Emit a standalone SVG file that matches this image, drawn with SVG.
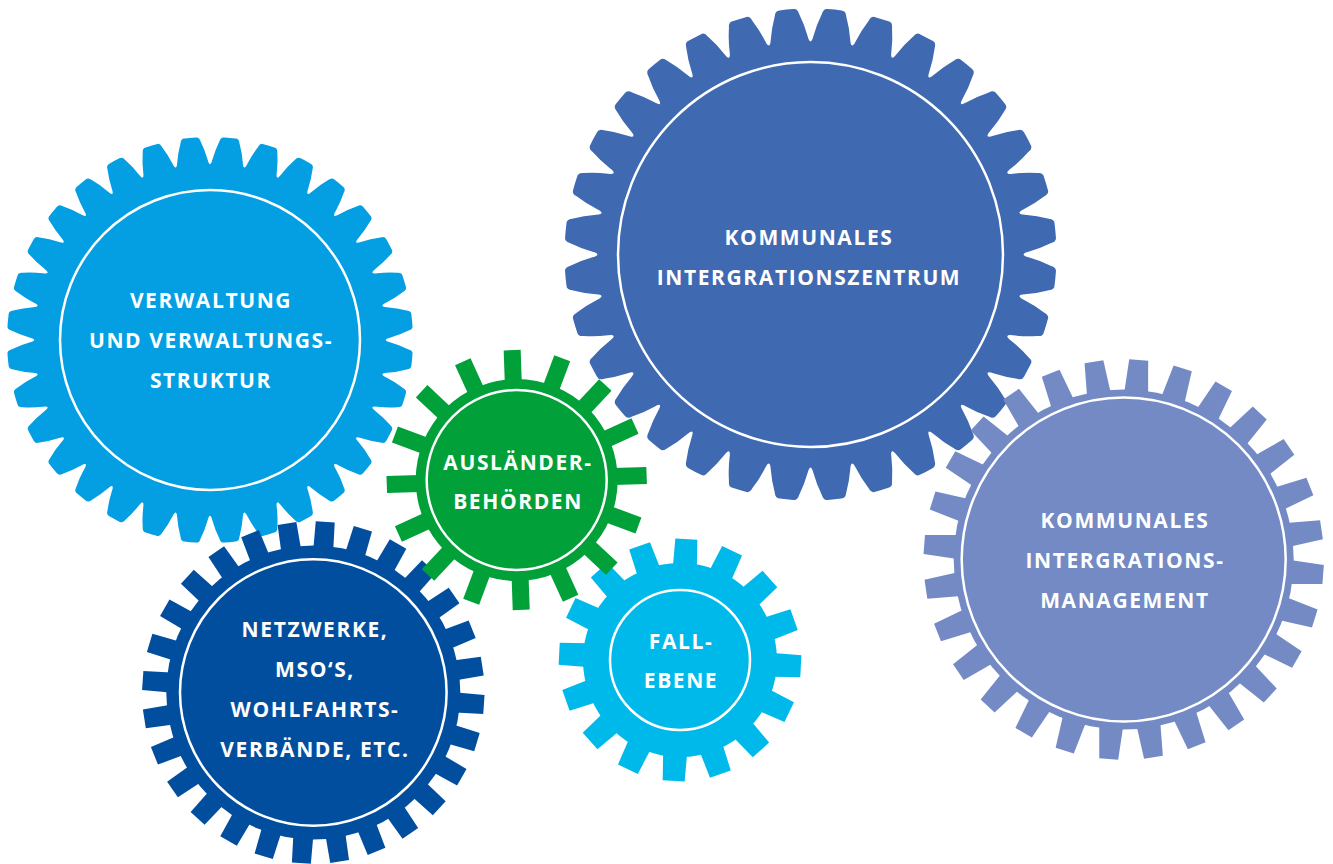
<svg xmlns="http://www.w3.org/2000/svg" width="1333" height="864" viewBox="0 0 1333 864">
  <style>
    .ring { fill: none; stroke: #ffffff; stroke-width: 2.5; }
    .lbl { font-family: "Open Sans", "Liberation Sans", sans-serif; font-weight: 700; font-size: 21px; letter-spacing: 1.6px; fill: #ffffff; text-anchor: middle; }
  </style>
  <defs>
    <!-- rounded tooth (tip r=246, root r=213), pointing up from the gear centre -->
    <path id="toothRound" d="M -20.88 -211.97 Q -19.33 -212.42 -18.62 -217.20 Q -16.44 -229.41 -12.19 -240.69 Q -11.18 -246.25 -6.87 -245.90 A 246 246 0 0 1 6.87 -245.90 Q 11.18 -246.25 12.19 -240.69 Q 16.44 -229.41 18.62 -217.20 Q 19.33 -212.42 20.88 -211.97 L 0 -150 Z"/>
    <!-- 32 rounded teeth, built by repeated doubling -->
    <g id="r32a"><use href="#toothRound" transform="rotate(5.625)"/><use href="#toothRound" transform="rotate(16.875)"/></g>
    <g id="r32b"><use href="#r32a"/><use href="#r32a" transform="rotate(22.5)"/></g>
    <g id="r32c"><use href="#r32b"/><use href="#r32b" transform="rotate(45)"/></g>
    <g id="r32d"><use href="#r32c"/><use href="#r32c" transform="rotate(90)"/></g>
    <g id="teeth32"><use href="#r32d"/><use href="#r32d" transform="rotate(180)"/></g>

    <!-- square teeth: lavender gear, 28 teeth -->
    <polygon id="toothLav" points="-12,-166 -9.5,-200 9.5,-200 12,-166"/>
    <g id="lav7">
      <use href="#toothLav" transform="rotate(4.3)"/>
      <use href="#toothLav" transform="rotate(17.157)"/>
      <use href="#toothLav" transform="rotate(30.014)"/>
      <use href="#toothLav" transform="rotate(42.871)"/>
      <use href="#toothLav" transform="rotate(55.729)"/>
      <use href="#toothLav" transform="rotate(68.586)"/>
      <use href="#toothLav" transform="rotate(81.443)"/>
    </g>
    <g id="lav14"><use href="#lav7"/><use href="#lav7" transform="rotate(90)"/></g>
    <g id="teethLav"><use href="#lav14"/><use href="#lav14" transform="rotate(180)"/></g>

    <!-- square teeth: navy gear, 28 teeth -->
    <polygon id="toothNavy" points="-10,-143 -9.5,-171 9.5,-171 10,-143"/>
    <g id="navy7">
      <use href="#toothNavy" transform="rotate(4)"/>
      <use href="#toothNavy" transform="rotate(16.857)"/>
      <use href="#toothNavy" transform="rotate(29.714)"/>
      <use href="#toothNavy" transform="rotate(42.571)"/>
      <use href="#toothNavy" transform="rotate(55.429)"/>
      <use href="#toothNavy" transform="rotate(68.286)"/>
      <use href="#toothNavy" transform="rotate(81.143)"/>
    </g>
    <g id="navy14"><use href="#navy7"/><use href="#navy7" transform="rotate(90)"/></g>
    <g id="teethNavy"><use href="#navy14"/><use href="#navy14" transform="rotate(180)"/></g>

    <!-- square teeth: green gear, 16 teeth -->
    <polygon id="toothGreen" points="-8.5,-97 -8.5,-130 8.5,-130 8.5,-97"/>
    <g id="gr2"><use href="#toothGreen" transform="rotate(-2)"/><use href="#toothGreen" transform="rotate(20.5)"/></g>
    <g id="gr4"><use href="#gr2"/><use href="#gr2" transform="rotate(45)"/></g>
    <g id="gr8"><use href="#gr4"/><use href="#gr4" transform="rotate(90)"/></g>
    <g id="teethGreen"><use href="#gr8"/><use href="#gr8" transform="rotate(180)"/></g>

    <!-- square teeth: cyan gear, 16 teeth -->
    <polygon id="toothCyan" points="-12,-93 -11,-121 11,-121 12,-93"/>
    <g id="cy2"><use href="#toothCyan" transform="rotate(3)"/><use href="#toothCyan" transform="rotate(25.5)"/></g>
    <g id="cy4"><use href="#cy2"/><use href="#cy2" transform="rotate(45)"/></g>
    <g id="cy8"><use href="#cy4"/><use href="#cy4" transform="rotate(90)"/></g>
    <g id="teethCyan"><use href="#cy8"/><use href="#cy8" transform="rotate(180)"/></g>
  </defs>

  <rect width="1333" height="864" fill="#ffffff"/>

  <!-- Verwaltung -->
  <g id="gear-verwaltung" fill="#039fe2">
    <use href="#teeth32" transform="translate(210,340) scale(0.8252)"/>
    <circle cx="210" cy="340" r="175.5"/>
    <circle class="ring" cx="210" cy="340" r="150"/>
    <text class="lbl" x="211" y="308">VERWALTUNG</text>
    <text class="lbl" x="211" y="348">UND VERWALTUNGS-</text>
    <text class="lbl" x="211" y="388">STRUKTUR</text>
  </g>

  <!-- Netzwerke -->
  <g id="gear-netzwerke" fill="#024e9e">
    <use href="#teethNavy" transform="translate(313.3,692.5)"/>
    <circle cx="313.3" cy="692.5" r="147"/>
    <circle class="ring" cx="313.3" cy="692.5" r="133.3"/>
    <text class="lbl" x="315" y="637">NETZWERKE,</text>
    <text class="lbl" x="315" y="677">MSO‘S,</text>
    <text class="lbl" x="315" y="717">WOHLFAHRTS-</text>
    <text class="lbl" x="315" y="757">VERBÄNDE, ETC.</text>
  </g>

  <!-- Kommunales Integrationszentrum -->
  <g id="gear-zentrum" fill="#3f69b1">
    <use href="#teeth32" transform="translate(810.5,254.5)"/>
    <circle cx="810.5" cy="254.5" r="212.8"/>
    <circle class="ring" cx="810.5" cy="254.5" r="192.5"/>
    <text class="lbl" x="809" y="245">KOMMUNALES</text>
    <text class="lbl" x="809" y="285">INTERGRATIONSZENTRUM</text>
  </g>

  <!-- Kommunales Integrationsmanagement -->
  <g id="gear-management" fill="#738ac5">
    <use href="#teethLav" transform="translate(1123.7,559.5)"/>
    <circle cx="1123.7" cy="559.5" r="170"/>
    <circle class="ring" cx="1123.7" cy="559.5" r="162"/>
    <text class="lbl" x="1125" y="528">KOMMUNALES</text>
    <text class="lbl" x="1125" y="568">INTERGRATIONS-</text>
    <text class="lbl" x="1125" y="608">MANAGEMENT</text>
  </g>

  <!-- Fallebene -->
  <g id="gear-fallebene" fill="#00b9eb">
    <use href="#teethCyan" transform="translate(680,660)"/>
    <circle cx="680" cy="660" r="97"/>
    <circle class="ring" cx="680" cy="660" r="70"/>
    <text class="lbl" x="681" y="649">FALL-</text>
    <text class="lbl" x="681" y="688">EBENE</text>
  </g>

  <!-- Ausländerbehörden -->
  <g id="gear-auslaenderbehoerden" fill="#02a039">
    <use href="#teethGreen" transform="translate(516.7,480)"/>
    <circle cx="516.7" cy="480" r="101"/>
    <circle class="ring" cx="516.7" cy="480" r="90"/>
    <text class="lbl" x="518" y="470">AUSLÄNDER-</text>
    <text class="lbl" x="518" y="509">BEHÖRDEN</text>
  </g>

  <!-- no connectors in this figure -->
  <g id="connectors"/>
</svg>
